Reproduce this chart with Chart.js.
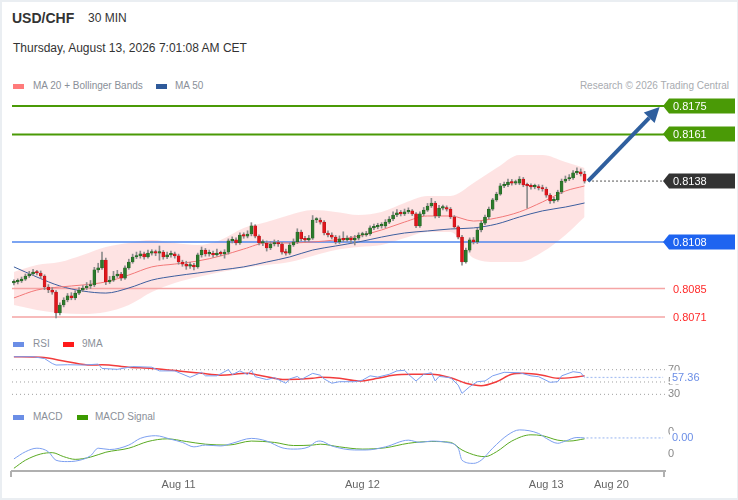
<!DOCTYPE html>
<html><head><meta charset="utf-8">
<script src="https://cdn.jsdelivr.net/npm/chart.js@4.4.1/dist/chart.umd.min.js"></script>
<style>
html,body{margin:0;padding:0;background:#fff;}
body{width:738px;height:500px;position:relative;overflow:hidden;font-family:"Liberation Sans",Arial,sans-serif;}
.frame{position:absolute;left:0;top:0;width:738px;height:500px;box-sizing:border-box;border:2px solid #eaeef2;border-right-width:1px;border-bottom-width:2px;pointer-events:none;}
.t{position:absolute;white-space:nowrap;}
.sw{position:absolute;width:11px;height:5px;}
canvas{position:absolute;left:0;}
</style></head>
<body>
<div class="t" style="left:12px;top:10px;font-size:14px;font-weight:bold;color:#333;">USD/CHF</div>
<div class="t" style="left:88px;top:11px;font-size:12px;color:#333;">30 MIN</div>
<div class="t" style="left:13px;top:41px;font-size:12px;color:#333;">Thursday, August 13, 2026 7:01:08 AM CET</div>
<div class="sw" style="left:13px;top:84px;background:#ff7b7b;"></div>
<div class="t" style="left:33px;top:80px;font-size:10px;color:#8a8f98;">MA 20 + Bollinger Bands</div>
<div class="sw" style="left:156px;top:84px;background:#2f5a9a;"></div>
<div class="t" style="left:175px;top:80px;font-size:10px;color:#8a8f98;">MA 50</div>
<div class="t" style="right:9px;top:80px;font-size:10px;color:#a8abb0;">Research © 2026 Trading Central</div>
<div class="sw" style="left:13px;top:342px;background:#6b8ee6;"></div>
<div class="t" style="left:33px;top:338px;font-size:10px;color:#8a8f98;">RSI</div>
<div class="sw" style="left:63px;top:342px;background:#ff1a1a;"></div>
<div class="t" style="left:82px;top:338px;font-size:10px;color:#8a8f98;">9MA</div>
<div class="sw" style="left:13px;top:415px;background:#6b8ee6;"></div>
<div class="t" style="left:33px;top:411px;font-size:10px;color:#8a8f98;">MACD</div>
<div class="sw" style="left:77px;top:415px;background:#3c9a00;"></div>
<div class="t" style="left:95px;top:411px;font-size:10px;color:#8a8f98;">MACD Signal</div>

<canvas id="main" width="738" height="235" style="top:95px"></canvas>
<canvas id="rsi" width="738" height="50" style="top:350px"></canvas>
<canvas id="macd" width="738" height="80" style="top:420px"></canvas>
<div class="frame"></div>

<script>
// ---------------- DATA ----------------
const OPENS = [0.80878,0.80883,0.80888,0.80897,0.80912,0.80922,0.80932,0.80927,0.80912,0.80858,
0.80843,0.80833,0.80730,0.80769,0.80794,0.80814,0.80804,0.80828,0.80843,0.80853,
0.80863,0.80868,0.80942,0.80952,0.80991,0.80883,0.80892,0.80912,0.80922,0.80902,
0.80952,0.80981,0.81006,0.81011,0.81021,0.81006,0.81025,0.81030,0.81025,0.81030,
0.81006,0.81016,0.81021,0.81011,0.80981,0.80971,0.80961,0.80966,0.80957,0.81016,
0.81040,0.81021,0.81021,0.81016,0.81025,0.81021,0.81030,0.81085,0.81090,0.81075,
0.81114,0.81109,0.81119,0.81159,0.81109,0.81075,0.81075,0.81050,0.81070,0.81075,
0.81070,0.81030,0.81025,0.81065,0.81080,0.81129,0.81095,0.81090,0.81099,0.81188,
0.81188,0.81178,0.81124,0.81114,0.81104,0.81080,0.81095,0.81090,0.81099,0.81090,
0.81099,0.81114,0.81114,0.81119,0.81149,0.81154,0.81159,0.81159,0.81178,0.81193,
0.81213,0.81223,0.81218,0.81228,0.81233,0.81218,0.81159,0.81218,0.81237,0.81257,
0.81272,0.81208,0.81247,0.81247,0.81242,0.81203,0.81154,0.81104,0.80981,0.81040,
0.81090,0.81080,0.81139,0.81173,0.81203,0.81242,0.81287,0.81316,0.81356,0.81361,
0.81375,0.81370,0.81370,0.81390,0.81361,0.81356,0.81351,0.81351,0.81346,0.81341,
0.81311,0.81282,0.81287,0.81326,0.81380,0.81390,0.81395,0.81420,0.81425,0.81415];
const CLOSES = [0.80883,0.80888,0.80897,0.80912,0.80922,0.80932,0.80927,0.80912,0.80858,0.80843,
0.80833,0.80730,0.80769,0.80794,0.80814,0.80804,0.80828,0.80843,0.80853,0.80863,
0.80868,0.80942,0.80952,0.80991,0.80883,0.80892,0.80912,0.80922,0.80902,0.80952,
0.80981,0.81006,0.81011,0.81021,0.81006,0.81025,0.81030,0.81025,0.81030,0.81006,
0.81016,0.81021,0.81011,0.80981,0.80971,0.80961,0.80966,0.80957,0.81016,0.81040,
0.81021,0.81021,0.81016,0.81025,0.81021,0.81030,0.81085,0.81090,0.81075,0.81114,
0.81109,0.81119,0.81159,0.81109,0.81075,0.81075,0.81050,0.81070,0.81075,0.81070,
0.81030,0.81025,0.81065,0.81080,0.81129,0.81095,0.81090,0.81099,0.81188,0.81188,
0.81178,0.81124,0.81114,0.81104,0.81080,0.81095,0.81090,0.81099,0.81090,0.81099,
0.81114,0.81114,0.81119,0.81149,0.81154,0.81159,0.81159,0.81178,0.81193,0.81213,
0.81223,0.81218,0.81228,0.81233,0.81218,0.81159,0.81218,0.81237,0.81257,0.81272,
0.81208,0.81247,0.81247,0.81242,0.81203,0.81154,0.81104,0.80981,0.81040,0.81090,
0.81080,0.81139,0.81173,0.81203,0.81242,0.81287,0.81316,0.81356,0.81361,0.81375,
0.81370,0.81370,0.81390,0.81361,0.81356,0.81351,0.81351,0.81346,0.81341,0.81311,
0.81282,0.81287,0.81326,0.81380,0.81390,0.81395,0.81420,0.81425,0.81415,0.81380];
const HIGHS = [0.80893,0.80898,0.80907,0.80922,0.80935,0.80945,0.80940,0.80937,0.80918,0.80870,
0.80855,0.80840,0.80780,0.80805,0.80826,0.80830,0.80840,0.80855,0.80865,0.80880,
0.80890,0.80955,0.80975,0.81030,0.81000,0.80910,0.80935,0.80940,0.80930,0.80962,
0.80995,0.81020,0.81030,0.81035,0.81030,0.81040,0.81042,0.81040,0.81060,0.81038,
0.81030,0.81035,0.81030,0.81020,0.80990,0.80985,0.80980,0.80975,0.81025,0.81055,
0.81048,0.81040,0.81035,0.81045,0.81035,0.81042,0.81095,0.81105,0.81100,0.81125,
0.81125,0.81135,0.81175,0.81165,0.81115,0.81090,0.81085,0.81082,0.81090,0.81088,
0.81078,0.81045,0.81075,0.81095,0.81145,0.81138,0.81108,0.81112,0.81210,0.81200,
0.81198,0.81185,0.81135,0.81125,0.81112,0.81110,0.81130,0.81110,0.81108,0.81112,
0.81125,0.81128,0.81132,0.81160,0.81168,0.81172,0.81175,0.81190,0.81205,0.81228,
0.81240,0.81235,0.81242,0.81248,0.81240,0.81225,0.81228,0.81250,0.81270,0.81295,
0.81280,0.81260,0.81262,0.81258,0.81250,0.81210,0.81160,0.81112,0.81050,0.81100,
0.81102,0.81148,0.81182,0.81212,0.81252,0.81295,0.81325,0.81368,0.81375,0.81390,
0.81388,0.81385,0.81402,0.81398,0.81370,0.81366,0.81365,0.81362,0.81360,0.81350,
0.81318,0.81300,0.81335,0.81390,0.81405,0.81412,0.81432,0.81445,0.81440,0.81428];
const LOWS = [0.80868,0.80873,0.80880,0.80890,0.80905,0.80915,0.80918,0.80900,0.80845,0.80830,
0.80822,0.80705,0.80720,0.80760,0.80785,0.80795,0.80795,0.80820,0.80835,0.80845,
0.80850,0.80860,0.80930,0.80945,0.80870,0.80875,0.80885,0.80905,0.80890,0.80895,
0.80945,0.80975,0.80998,0.81000,0.80995,0.81000,0.81015,0.81012,0.80990,0.80995,
0.80998,0.81005,0.81000,0.80970,0.80960,0.80945,0.80950,0.80942,0.80950,0.81005,
0.81010,0.81010,0.81005,0.81010,0.81012,0.81000,0.81020,0.81075,0.81065,0.81068,
0.81098,0.81100,0.81110,0.81100,0.81065,0.81062,0.81035,0.81042,0.81060,0.81058,
0.81020,0.81015,0.81018,0.81058,0.81072,0.81085,0.81080,0.81082,0.81092,0.81175,
0.81168,0.81115,0.81105,0.81095,0.81070,0.81072,0.81080,0.81082,0.81075,0.81065,
0.81090,0.81105,0.81108,0.81112,0.81140,0.81145,0.81148,0.81150,0.81170,0.81185,
0.81205,0.81208,0.81210,0.81220,0.81210,0.81150,0.81152,0.81210,0.81230,0.81250,
0.81198,0.81200,0.81238,0.81232,0.81195,0.81145,0.81095,0.80965,0.80975,0.81030,
0.81070,0.81072,0.81130,0.81165,0.81195,0.81235,0.81280,0.81310,0.81348,0.81352,
0.81360,0.81362,0.81362,0.81352,0.81247,0.81340,0.81342,0.81336,0.81330,0.81300,
0.81270,0.81272,0.81280,0.81318,0.81372,0.81382,0.81388,0.81412,0.81405,0.81370];

const BAND_IDX = [0,6,12,18,24,30,36,42,48,54,60,66,72,78,84,90,96,102,108,114,120,126,132,138,144,149];
const MA20  = [0.80804,0.80843,0.80858,0.80868,0.80883,0.80917,0.80957,0.80971,0.80986,0.81011,0.81045,0.81075,0.81075,0.81080,0.81090,0.81109,0.81139,0.81178,0.81208,0.81208,0.81183,0.81198,0.81228,0.81277,0.81331,0.81356];
const UPPER = [0.80932,0.80966,0.80981,0.81016,0.81055,0.81075,0.81090,0.81075,0.81065,0.81090,0.81149,0.81178,0.81213,0.81237,0.81228,0.81213,0.81228,0.81272,0.81306,0.81306,0.81370,0.81444,0.81509,0.81509,0.81474,0.81444];
const LOWER = [0.80769,0.80745,0.80730,0.80725,0.80735,0.80769,0.80833,0.80878,0.80907,0.80932,0.80952,0.80966,0.80981,0.81011,0.81040,0.81055,0.81065,0.81099,0.81129,0.81129,0.81001,0.80981,0.80981,0.81030,0.81114,0.81203];
const MA50  = [0.80957,0.80907,0.80863,0.80838,0.80828,0.80853,0.80892,0.80912,0.80927,0.80942,0.80957,0.80981,0.81006,0.81040,0.81060,0.81080,0.81104,0.81124,0.81134,0.81144,0.81149,0.81168,0.81203,0.81233,0.81252,0.81272];

const LEVELS = [0.8175, 0.8161, 0.8108, 0.8085, 0.8071];
const LAST_PRICE = 0.8138;
const TAG_VALUES = [0.8175, 0.8161, 0.8138, 0.8108, 0.8085, 0.8071];
const TAG_LABELS = ['0.8175', '0.8161', '0.8138', '0.8108', '0.8085', '0.8071'];
const ARROW_FROM = [149.9, 0.81380];
const ARROW_TO = [168.6, 0.81745];

const RSI_IDX = [0,5,8,10,11,14,18,22,23,27,31,36,38,42,46,49,50,53,56,57,59,61,62,63,66,68,71,72,74,75,78,80,81,83,85,89,91,93,95,98,100,102,103,105,107,109,110,111,114,116,117,119,121,123,125,128,132,135,137,140,142,143,146,148,149];
const RSI_VAL = [91,91,88,80,77.5,78,77.5,79,72,70.5,75,74,68,68,57.6,65.7,60,60,70,62,68,62,69,58.6,54,57,48,55,59,54,64,61,55,48,50.5,50.5,53,60,58,62.5,68,69,62.5,51.6,62.5,65,51.6,59,57,45,31.6,42.4,50.5,51.6,60,65.7,65,60,58.6,49.5,50.5,60,66.7,65,57.36];
const RSIMA_IDX = [0,7,14,20,23,30,36,43,49,54,61,64,71,78,80,85,90,95,99,104,109,114,118,122,126,130,133,138,142,146,149];
const RSIMA_VAL = [91,90,83,77.5,78,74,72,68,64,61,64,61,54,56,57.5,56,51.6,56,61,62.5,62.5,57,48,44,50.5,62.5,64,61,56,57.5,60];
const RSI_LEVELS = [70, 50, 30];
const RSI_LAST = 57.36;

const MACD_IDX = [0,3,6,9,11,14,16,20,22,25,30,33,37,41,44,47,50,54,57,62,66,70,73,77,79,80,83,89,92,97,103,106,109,113,116,117,120,122,125,129,132,137,139,142,144,147,149];
const MACD_VAL = [-0.00011,0.00005,0.00013,0.00005,-0.00014,-0.00017,-0.00016,-0.00004,0.00013,0.0001,0.0002,0.00035,0.00041,0.00033,0.00026,0.00016,0.0002,0.00018,0.00024,0.00035,0.00029,0.00014,0.00011,0.00016,0.00028,0.00029,0.00018,0.00009,0.00009,0.00016,0.00031,0.00026,0.00029,0.00026,0.00013,-0.00014,-0.00021,-0.00014,0.00013,0.00043,0.00054,0.00046,0.00035,0.00024,0.00029,0.00037,0.00036];
const SIG_IDX = [0,3,7,10,13,16,20,24,30,35,40,45,50,56,62,68,73,78,80,85,91,97,103,109,114,117,121,123,126,130,135,138,142,145,149];
const SIG_VAL = [-0.00032,-0.00014,0,0.00003,-0.00006,-0.00012,-0.00007,0.00004,0.00013,0.00028,0.00034,0.00028,0.00022,0.0002,0.00029,0.00026,0.00019,0.0002,0.00022,0.00016,0.00011,0.00014,0.00024,0.00028,0.00026,0.00009,-0.00004,-0.00006,0.00005,0.00029,0.00043,0.00041,0.00031,0.00029,0.00034];
const MACD_TICKS = [0.0005, 0];
const MACD_LAST = 0.00036;
const MACD_LAST_LABEL = '0.00';

const TICK_IDX = [43, 91, 139, 156];
const TICK_LABELS = ['Aug 11', 'Aug 12', 'Aug 13', 'Aug 20'];

// ---------------- CONFIG ----------------
const X_MIN = -0.5, X_MAX = 170;
const FONT = '"Liberation Sans", Arial, sans-serif';
const pts = (xs, ys) => xs.map((x, i) => ({x, y: ys[i]}));
const hline = (v, x0, x1) => [{x: x0, y: v}, {x: x1, y: v}];
const LEVEL_STYLE = [
  {c: '#4a9a06', w: 2}, {c: '#4a9a06', w: 2}, {c: '#4f86ee', w: 1.5},
  {c: '#f5a5a5', w: 1.5}, {c: '#f5a5a5', w: 1.5}
];
const TAG_STYLE = [
  {bg: '#4a9a06', fg: '#fff'}, {bg: '#4a9a06', fg: '#fff'}, {bg: '#333333', fg: '#fff'},
  {bg: '#1e64f0', fg: '#fff'}, {bg: null, fg: '#ff2a2a'}, {bg: null, fg: '#ff2a2a'}
];
const lastIdx = CLOSES.length - 1;
const common = {
  responsive: false, animation: false, events: [],
  plugins: {legend: {display: false}, tooltip: {enabled: false}}
};

const tagPlugin = {
  id: 'tags',
  afterDraw(chart) {
    const {ctx, chartArea} = chart;
    const ys = chart.scales.y, xs = chart.scales.x;
    const x0 = xs.getPixelForValue(ARROW_FROM[0]), y0 = ys.getPixelForValue(ARROW_FROM[1]);
    const x1 = xs.getPixelForValue(ARROW_TO[0]), y1 = ys.getPixelForValue(ARROW_TO[1]);
    const ang = Math.atan2(y1 - y0, x1 - x0), hl = 15, hw = 7.5;
    const bx = x1 - hl * Math.cos(ang), by = y1 - hl * Math.sin(ang);
    ctx.save();
    ctx.strokeStyle = '#2f5f9e'; ctx.fillStyle = '#2f5f9e'; ctx.lineWidth = 4; ctx.lineCap = 'butt';
    ctx.beginPath(); ctx.moveTo(x0, y0); ctx.lineTo(bx, by); ctx.stroke();
    ctx.beginPath(); ctx.moveTo(x1, y1);
    ctx.lineTo(bx + hw * Math.sin(ang), by - hw * Math.cos(ang));
    ctx.lineTo(bx - hw * Math.sin(ang), by + hw * Math.cos(ang));
    ctx.closePath(); ctx.fill();
    const left = chartArea.right - 2;
    ctx.font = '11px ' + FONT; ctx.textBaseline = 'middle'; ctx.textAlign = 'left';
    TAG_VALUES.forEach((v, i) => {
      const y = Math.round(ys.getPixelForValue(v));
      const st = TAG_STYLE[i];
      if (st.bg) {
        ctx.fillStyle = st.bg;
        ctx.beginPath();
        ctx.moveTo(left, y); ctx.lineTo(left + 6, y - 7.5); ctx.lineTo(735, y - 7.5);
        ctx.lineTo(735, y + 7.5); ctx.lineTo(left + 6, y + 7.5); ctx.closePath(); ctx.fill();
      }
      ctx.fillStyle = st.fg;
      ctx.fillText(TAG_LABELS[i], left + 10, y + 0.5);
    });
    ctx.restore();
  }
};

const mainDatasets = [
  {type: 'line', data: pts(BAND_IDX, UPPER), borderColor: 'rgba(0,0,0,0)', borderWidth: 0, pointRadius: 0,
   fill: '+1', backgroundColor: 'rgba(253,200,200,0.5)', cubicInterpolationMode: 'monotone', order: 30},
  {type: 'line', data: pts(BAND_IDX, LOWER), borderColor: 'rgba(0,0,0,0)', borderWidth: 0, pointRadius: 0,
   fill: false, cubicInterpolationMode: 'monotone', order: 29},
];
LEVELS.forEach((v, i) => mainDatasets.push({
  type: 'line', data: hline(v, X_MIN, X_MAX), borderColor: LEVEL_STYLE[i].c, borderWidth: LEVEL_STYLE[i].w,
  pointRadius: 0, fill: false, order: 20
}));
mainDatasets.push(
  {type: 'line', data: hline(LAST_PRICE, lastIdx + 0.9, X_MAX - 0.5), borderColor: '#555', borderWidth: 1,
   borderDash: [2, 2], pointRadius: 0, fill: false, order: 19},
  {type: 'line', data: pts(BAND_IDX, MA20), borderColor: '#f27878', borderWidth: 1, pointRadius: 0, fill: false,
   cubicInterpolationMode: 'monotone', order: 10},
  {type: 'line', data: pts(BAND_IDX, MA50), borderColor: '#3d5e9e', borderWidth: 1, pointRadius: 0, fill: false,
   cubicInterpolationMode: 'monotone', order: 10},
  {type: 'bar', data: CLOSES.map((c, i) => ({x: i, y: [LOWS[i], HIGHS[i]]})), backgroundColor: '#8c8c8c',
   barThickness: 1, grouped: false, order: 3},
  {type: 'bar', data: CLOSES.map((c, i) => ({x: i, y: [OPENS[i], c]})),
   backgroundColor: ctx => { const i = ctx.dataIndex; return CLOSES[i] >= OPENS[i] ? '#2c7a2c' : '#e0161c'; },
   borderColor: ctx => { const i = ctx.dataIndex; return CLOSES[i] >= OPENS[i] ? '#1f5a1f' : '#b01015'; },
   borderWidth: 0.5, borderSkipped: false,
   barThickness: 3, minBarLength: 1.5, grouped: false, order: 2}
);

new Chart(document.getElementById('main'), {
  type: 'bar',
  data: {datasets: mainDatasets},
  options: Object.assign({}, common, {
    layout: {padding: {left: 12, right: 73, top: 0, bottom: 0}},
    scales: {
      x: {type: 'linear', min: X_MIN, max: X_MAX, display: false, offset: false},
      y: {min: 0.80646, max: 0.818042, display: false}
    }
  }),
  plugins: [tagPlugin]
});

const valueLabelPlugin = (value, text) => ({
  id: 'vlabel',
  afterDraw(chart) {
    const {ctx, chartArea} = chart;
    const y = chart.scales.y.getPixelForValue(value);
    ctx.save();
    ctx.font = '11px ' + FONT;
    const w = ctx.measureText(text).width;
    ctx.fillStyle = '#fff';
    ctx.fillRect(chartArea.right + 5, y - 7, w + 4, 14);
    ctx.fillStyle = '#6b8ee6'; ctx.textBaseline = 'middle';
    ctx.fillText(text, chartArea.right + 7, y + 0.5);
    ctx.restore();
  }
});

const noPad = s => { s.paddingTop = 0; s.paddingBottom = 0; s.paddingLeft = 0; s.paddingRight = 0; };

const rightAxis = (min, max, ticks, fmt) => ({
  position: 'right', min, max,
  afterFit: s => { s.width = 73; noPad(s); },
  afterBuildTicks: s => { s.ticks = ticks.map(v => ({value: v})); },
  grid: {display: false, drawTicks: false}, border: {display: false},
  ticks: {color: '#888', font: {size: 11, family: FONT}, padding: 3, callback: fmt}
});

const rsiDatasets = RSI_LEVELS.map(v => ({
  data: hline(v, X_MIN, X_MAX), borderColor: '#a0a0a0', borderWidth: 1, borderDash: [1, 3], pointRadius: 0, order: 9
}));
rsiDatasets.push(
  {data: hline(RSI_LAST, lastIdx + 0.5, X_MAX - 0.5), borderColor: '#a9c1f2', borderWidth: 1.2, borderDash: [2, 2], pointRadius: 0, order: 8},
  {data: pts(RSIMA_IDX, RSIMA_VAL), borderColor: '#f23c3c', borderWidth: 1.5, pointRadius: 0, cubicInterpolationMode: 'monotone', order: 2},
  {data: pts(RSI_IDX, RSI_VAL), borderColor: '#7c9ff0', borderWidth: 1, pointRadius: 0, order: 1}
);

new Chart(document.getElementById('rsi'), {
  type: 'line',
  data: {datasets: rsiDatasets},
  options: Object.assign({}, common, {
    layout: {padding: {left: 12, right: 0, top: 0, bottom: 0}},
    scales: {
      x: {type: 'linear', min: X_MIN, max: X_MAX, display: false},
      y: rightAxis(20.81, 101.89, RSI_LEVELS, v => String(v))
    }
  }),
  plugins: [valueLabelPlugin(RSI_LAST, RSI_LAST.toFixed(2))]
});

const axisEnds = {
  id: 'axisEnds',
  afterDraw(chart) {
    const {ctx, chartArea} = chart;
    ctx.save(); ctx.strokeStyle = '#b0b0b0'; ctx.lineWidth = 2;
    [chartArea.left - 1, chartArea.right - 1].forEach(x => {
      ctx.beginPath(); ctx.moveTo(x, chartArea.bottom); ctx.lineTo(x, chartArea.bottom + 6); ctx.stroke();
    });
    ctx.restore();
  }
};

new Chart(document.getElementById('macd'), {
  type: 'line',
  data: {datasets: [
    {data: hline(MACD_LAST, lastIdx + 0.5, X_MAX - 0.5), borderColor: '#a9c1f2', borderWidth: 1.2, borderDash: [2, 2], pointRadius: 0, order: 8},
    {data: pts(SIG_IDX, SIG_VAL), borderColor: '#5aaa22', borderWidth: 1, pointRadius: 0, cubicInterpolationMode: 'monotone', order: 2},
    {data: pts(MACD_IDX, MACD_VAL), borderColor: '#7c9ff0', borderWidth: 1, pointRadius: 0, cubicInterpolationMode: 'monotone', order: 1}
  ]},
  options: Object.assign({}, common, {
    layout: {padding: {left: 12, right: 0, top: 0, bottom: 0}},
    scales: {
      x: {type: 'linear', min: X_MIN, max: X_MAX,
          afterFit: s => { s.height = 29; noPad(s); },
          afterBuildTicks: s => { s.ticks = TICK_IDX.map(v => ({value: v})); },
          grid: {display: false, drawTicks: false},
          border: {display: true, color: '#b0b0b0', width: 2},
          ticks: {autoSkip: false, maxRotation: 0, color: '#666', font: {size: 11, family: FONT}, padding: 7,
                  callback: v => TICK_LABELS[TICK_IDX.indexOf(v)]}},
      y: rightAxis(-0.000381, 0.000762, MACD_TICKS, v => v.toFixed(0))
    }
  }),
  plugins: [axisEnds, valueLabelPlugin(MACD_LAST, MACD_LAST_LABEL)]
});
</script>
</body></html>
